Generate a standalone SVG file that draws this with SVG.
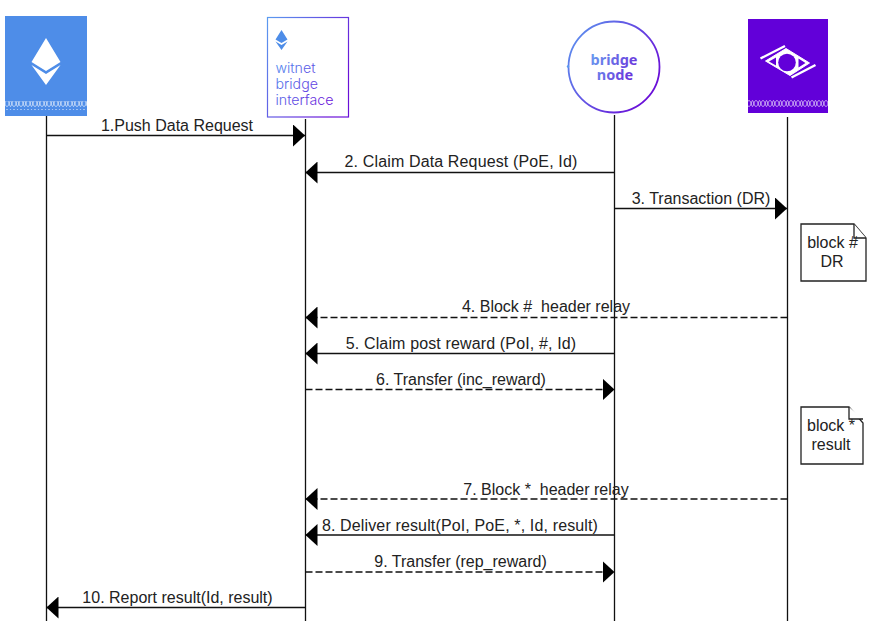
<svg xmlns="http://www.w3.org/2000/svg" width="882" height="630" viewBox="0 0 882 630">
<style>
.l{font-family:"Liberation Sans",Arial,sans-serif;font-size:16px;fill:#222;text-anchor:middle;white-space:pre}
.w{letter-spacing:.14px}
.life{stroke:#111;stroke-width:1.3;fill:none}
.m{stroke:#111;stroke-width:1.3;fill:none}
.d{stroke-dasharray:7 3}
.note{fill:#fff;stroke:#222;stroke-width:1.3}
.lg{font-family:"Inter","Noto Sans",sans-serif;font-size:14.2px;font-weight:300}
.bn{font-family:"Noto Sans",sans-serif;font-size:14.500px;font-weight:700;text-anchor:middle}
</style>
<defs>
<linearGradient id="g" x1="0" y1="0" x2="1" y2="0.6"><stop offset="0" stop-color="#5b9bf0"/><stop offset="1" stop-color="#6a10d8"/></linearGradient>
<linearGradient id="gt" gradientUnits="userSpaceOnUse" x1="275" y1="60" x2="335" y2="105"><stop offset="0" stop-color="#4f8ff0"/><stop offset="1" stop-color="#6a10d8"/></linearGradient>
<linearGradient id="gb" gradientUnits="userSpaceOnUse" x1="590" y1="55" x2="640" y2="80"><stop offset="0" stop-color="#6a9cf0"/><stop offset="1" stop-color="#6a20d8"/></linearGradient>
<pattern id="ch" width="7" height="9" patternUnits="userSpaceOnUse"><path d="M0 1.500C2 1.500 2.500 7.500 3.500 7.500S5 1.500 7 1.500M0 7.500C2 7.500 2.500 1.500 3.500 1.500S5 7.500 7 7.500" fill="none" stroke="#fff" stroke-opacity=".7" stroke-width=".9"/></pattern>
<marker id="a" markerUnits="userSpaceOnUse" viewBox="0 0 12 22" markerWidth="12" markerHeight="22" refX="12" refY="11" orient="auto"><path d="M0 0L12 11L0 22Z" fill="#000"/></marker>
</defs>
<g id="connectors">
<path class="life" d="M46.500 116V621M305.500 119V621M614.500 115V621M787.500 117V621"/>
<path class="m" marker-end="url(#a)" d="M46.500 135.500H305"/>
<path class="m" marker-end="url(#a)" d="M614.500 172.500H305.500"/>
<path class="m" marker-end="url(#a)" d="M614.500 208.500H787"/>
<path class="m d" marker-end="url(#a)" d="M787.500 317.500H305.500"/>
<path class="m" marker-end="url(#a)" d="M614.500 353.500H305.500"/>
<path class="m d" marker-end="url(#a)" d="M305.500 389.500H614.500"/>
<path class="m d" marker-end="url(#a)" d="M787.500 499H305.500"/>
<path class="m" marker-end="url(#a)" d="M614.500 535H305.500"/>
<path class="m d" marker-end="url(#a)" d="M305.500 572H614.500"/>
<path class="m" marker-end="url(#a)" d="M305.500 607.500H46.500"/>
</g>
<g id="labels">
<text class="l" x="177" y="131">1.Push Data Request</text>
<text class="l w" x="461" y="167">2. Claim Data Request (PoE, Id)</text>
<text class="l" x="701" y="204">3. Transaction (DR)</text>
<text class="l" x="546" y="312">4. Block #  header relay</text>
<text class="l w" x="461" y="349">5. Claim post reward (PoI, #, Id)</text>
<text class="l" x="461" y="385">6. Transfer (inc_reward)</text>
<text class="l" x="546" y="495">7. Block *  header relay</text>
<text class="l w" x="460" y="531">8. Deliver result(PoI, PoE, *, Id, result)</text>
<text class="l" x="460.500" y="567">9. Transfer (rep_reward)</text>
<text class="l" x="177.500" y="603">10. Report result(Id, result)</text>
</g>
<g id="eth-node">
<rect x="5" y="16" width="82" height="100" fill="#4e8de8"/>
<rect x="5" y="101" width="82" height="9" fill="url(#ch)"/>
<path d="M46 38L60.500 62L46 71L31.500 62Z M31.500 65L46 74L60.500 65L46 85Z" fill="#fff"/>
</g>
<g id="bridge-interface-node">
<rect x="267.500" y="17.500" width="81" height="99.500" fill="#fff" stroke="url(#g)" stroke-width="1.200"/>
<path d="M281.500 30L287.500 39.500L281.500 43L275.500 39.500Z M275.500 41.500L281.500 45L287.500 41.500L281.500 50Z" fill="#4e8de8"/>
<text class="lg" x="275.500" y="73" fill="url(#gt)">witnet</text>
<text class="lg" x="275.500" y="89" fill="url(#gt)">bridge</text>
<text class="lg" x="275.500" y="105" fill="url(#gt)">interface</text>
</g>
<g id="bridge-node">
<circle cx="614" cy="67" r="45.500" fill="#fff" stroke="url(#g)" stroke-width="1.800"/>
<circle cx="568" cy="66.500" r="1.200" fill="#5b9bf0"/>
<text class="bn" x="614" y="65" fill="url(#gb)">bridge</text>
<text class="bn" x="615" y="80" fill="url(#gb)">node</text>
</g>
<g id="witnet-node">
<rect x="748" y="19" width="80" height="94" fill="#6200d9"/>
<rect x="748" y="99" width="80" height="9" fill="url(#ch)"/>
<path d="M765.500 61L786 48.500L809.500 63L790 75.500Z" fill="#fff" stroke="#fff" stroke-width="1" stroke-linejoin="round"/>
<path d="M769 61.500L776 57.500V65.500ZM805.500 63L798.500 58.500V67.500Z" fill="#6200d9"/>
<circle cx="787" cy="62.500" r="8.800" fill="#6200d9"/>
<path d="M760.500 58.500L785 46M791.500 77.500L815.500 65" stroke="#fff" stroke-width="2.400" fill="none"/>
</g>
<g id="note-dr">
<path class="note" d="M801 224H854L866 238V281H801Z"/>
<path class="note" d="M854 224V238H866" fill="none"/>
<text class="l" x="832.500" y="248">block #</text>
<text class="l" x="832" y="267">DR</text>
</g>
<g id="note-result">
<path class="note" d="M801 407H849L863 423V464H801Z"/>
<path class="note" d="M849 407V419H863" fill="none"/>
<text class="l" x="831" y="431">block *</text>
<text class="l" x="831" y="450">result</text>
</g>
</svg>
